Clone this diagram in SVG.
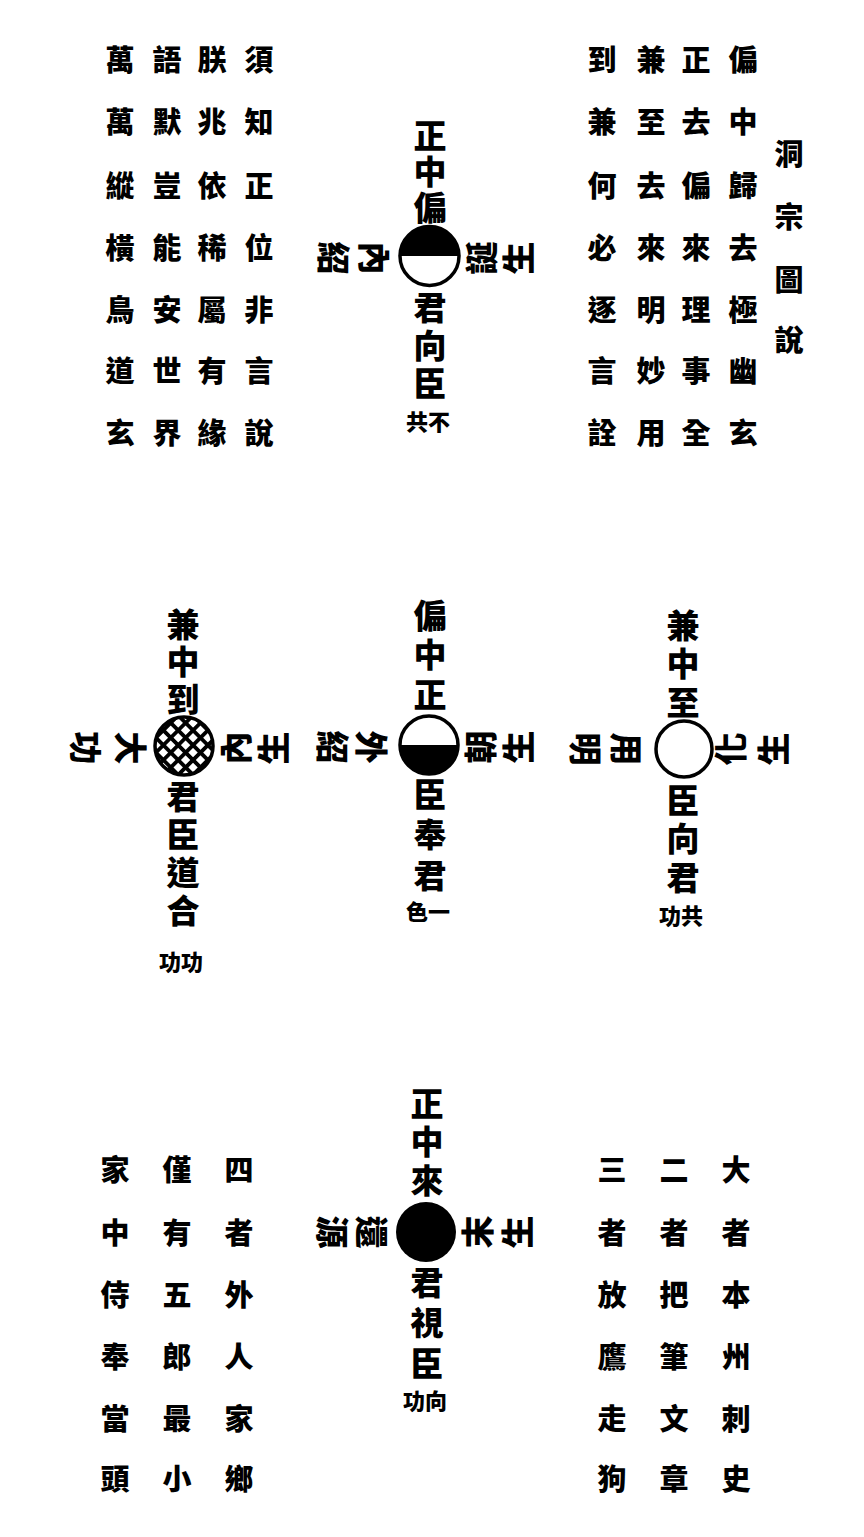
<svg xmlns="http://www.w3.org/2000/svg" width="864" height="1537" viewBox="0 0 864 1537">
<style>
text{font-family:"Noto Sans CJK TC","Noto Sans CJK SC","Noto Sans CJK JP",sans-serif;font-weight:900;fill:#000;text-anchor:middle;dominant-baseline:central}
.p{font-size:29px}
.f{font-size:33px}
.v{writing-mode:vertical-rl;text-anchor:start}
.s{font-size:22px}
.ring{fill:none;stroke:#000;stroke-width:3.5}
</style>
<defs>
<pattern id="hatch" patternUnits="userSpaceOnUse" width="10.5" height="10.5" patternTransform="rotate(45)">
<rect width="10.5" height="10.5" fill="#fff"/>
<rect x="0" y="0" width="3.8" height="10.5" fill="#000"/>
<rect x="0" y="0" width="10.5" height="3.8" fill="#000"/>
</pattern>
</defs>
<rect width="864" height="1537" fill="#fff"/>

<g id="poem-top-left">
<text class="p"><tspan x="259" y="58">須</tspan><tspan x="259" y="120">知</tspan><tspan x="259" y="184">正</tspan><tspan x="259" y="246">位</tspan><tspan x="259" y="308">非</tspan><tspan x="259" y="369">言</tspan><tspan x="259" y="431">說</tspan></text>
<text class="p"><tspan x="212" y="58">朕</tspan><tspan x="212" y="120">兆</tspan><tspan x="212" y="184">依</tspan><tspan x="212" y="246">稀</tspan><tspan x="212" y="308">屬</tspan><tspan x="212" y="369">有</tspan><tspan x="212" y="431">緣</tspan></text>
<text class="p"><tspan x="167" y="58">語</tspan><tspan x="167" y="120">默</tspan><tspan x="167" y="184">豈</tspan><tspan x="167" y="246">能</tspan><tspan x="167" y="308">安</tspan><tspan x="167" y="369">世</tspan><tspan x="167" y="431">界</tspan></text>
<text class="p"><tspan x="120" y="58">萬</tspan><tspan x="120" y="120">萬</tspan><tspan x="120" y="184">縱</tspan><tspan x="120" y="246">橫</tspan><tspan x="120" y="308">鳥</tspan><tspan x="120" y="369">道</tspan><tspan x="120" y="431">玄</tspan></text>
</g>

<g id="poem-top-right">
<text class="p"><tspan x="743" y="58">偏</tspan><tspan x="743" y="120">中</tspan><tspan x="743" y="184">歸</tspan><tspan x="743" y="246">去</tspan><tspan x="743" y="308">極</tspan><tspan x="743" y="369">幽</tspan><tspan x="743" y="431">玄</tspan></text>
<text class="p"><tspan x="696" y="58">正</tspan><tspan x="696" y="120">去</tspan><tspan x="696" y="184">偏</tspan><tspan x="696" y="246">來</tspan><tspan x="696" y="308">理</tspan><tspan x="696" y="369">事</tspan><tspan x="696" y="431">全</tspan></text>
<text class="p"><tspan x="651" y="58">兼</tspan><tspan x="651" y="120">至</tspan><tspan x="651" y="184">去</tspan><tspan x="651" y="246">來</tspan><tspan x="651" y="308">明</tspan><tspan x="651" y="369">妙</tspan><tspan x="651" y="431">用</tspan></text>
<text class="p"><tspan x="602" y="58">到</tspan><tspan x="602" y="120">兼</tspan><tspan x="602" y="184">何</tspan><tspan x="602" y="246">必</tspan><tspan x="602" y="308">逐</tspan><tspan x="602" y="369">言</tspan><tspan x="602" y="431">詮</tspan></text>
</g>

<g id="title">
<text class="p"><tspan x="789" y="152">洞</tspan><tspan x="789" y="215">宗</tspan><tspan x="789" y="278">圖</tspan><tspan x="789" y="338">說</tspan></text>
</g>

<g id="fig-zhengzhongpian">
<text class="f v" x="430" y="118.5" letter-spacing="3">正中偏</text>
<path d="M400,256 A29.5,29.5 0 0 1 459,256 Z" fill="#000"/>
<circle class="ring" cx="429.5" cy="256" r="29.5"/>
<text class="f v" x="430" y="290.5" letter-spacing="5">君向臣</text>
<text class="s" x="428" y="420">共不</text>
<text class="f v" transform="translate(354.5 258) rotate(90)" x="0" y="-37" letter-spacing="8">內紹</text>
<text class="f v" transform="translate(499.5 258) rotate(-90)" x="0" y="-35" letter-spacing="4">誕生</text>
</g>

<g id="fig-jianzhongdao">
<text class="f v" x="183" y="607.5" letter-spacing="4.5">兼中到</text>
<circle cx="184" cy="746" r="29" fill="url(#hatch)"/>
<circle class="ring" cx="184" cy="746" r="29"/>
<text class="f v" x="183" y="779.5" letter-spacing="5.3">君臣道合</text>
<text class="s" x="181" y="960">功功</text>
<text class="f v" transform="translate(108.5 748) rotate(90)" x="0" y="-39" letter-spacing="12">大功</text>
<text class="f v" transform="translate(254 748) rotate(-90)" x="0" y="-35.5" letter-spacing="5">內生</text>
</g>

<g id="fig-pianzhongzheng">
<text class="f v" x="430" y="598.5" letter-spacing="6.5">偏中正</text>
<path d="M400,745 A29,29 0 0 0 458,745 Z" fill="#000"/>
<circle class="ring" cx="429" cy="745" r="29"/>
<text class="f v" x="430" y="777.5" letter-spacing="7.5">臣奉君</text>
<text class="s" x="428" y="910">色一</text>
<text class="f v" transform="translate(352.5 747) rotate(90)" x="0" y="-36" letter-spacing="6">外紹</text>
<text class="f v" transform="translate(499 747) rotate(-90)" x="0" y="-35.5" letter-spacing="5">朝生</text>
</g>

<g id="fig-pianzhongzhi">
<text class="f v" x="683" y="608.5" letter-spacing="5.5">兼中至</text>
<circle class="ring" cx="684" cy="749" r="28"/>
<text class="f v" x="683" y="783.5" letter-spacing="5.5">臣向君</text>
<text class="s" x="681" y="914">功共</text>
<text class="f v" transform="translate(606.5 749) rotate(90)" x="0" y="-37" letter-spacing="8">用明</text>
<text class="f v" transform="translate(751.5 749) rotate(-90)" x="0" y="-38" letter-spacing="10">化生</text>
</g>

<g id="fig-zhengzhonglai">
<text class="f v" x="427" y="1086.5" letter-spacing="5.5">正中來</text>
<circle cx="426" cy="1232" r="30" fill="#000"/>
<text class="f v" x="427" y="1265.5" letter-spacing="7.5">君視臣</text>
<text class="s" x="425" y="1399">功向</text>
<text class="f v" transform="translate(352.5 1232) rotate(90)" x="0" y="-36" letter-spacing="6">還源</text>
<text class="f v" transform="translate(497 1232) rotate(-90)" x="0" y="-36.5" letter-spacing="7">末生</text>
</g>

<g id="poem-bottom-left">
<text class="p"><tspan x="239" y="1168">四</tspan><tspan x="239" y="1231">者</tspan><tspan x="239" y="1293">外</tspan><tspan x="239" y="1355">人</tspan><tspan x="239" y="1417">家</tspan><tspan x="239" y="1477">鄉</tspan></text>
<text class="p"><tspan x="177" y="1168">僅</tspan><tspan x="177" y="1231">有</tspan><tspan x="177" y="1293">五</tspan><tspan x="177" y="1355">郎</tspan><tspan x="177" y="1417">最</tspan><tspan x="177" y="1477">小</tspan></text>
<text class="p"><tspan x="115" y="1168">家</tspan><tspan x="115" y="1231">中</tspan><tspan x="115" y="1293">侍</tspan><tspan x="115" y="1355">奉</tspan><tspan x="115" y="1417">當</tspan><tspan x="115" y="1477">頭</tspan></text>
</g>

<g id="poem-bottom-right">
<text class="p"><tspan x="736" y="1168">大</tspan><tspan x="736" y="1231">者</tspan><tspan x="736" y="1293">本</tspan><tspan x="736" y="1355">州</tspan><tspan x="736" y="1417">刺</tspan><tspan x="736" y="1477">史</tspan></text>
<text class="p"><tspan x="674" y="1168">二</tspan><tspan x="674" y="1231">者</tspan><tspan x="674" y="1293">把</tspan><tspan x="674" y="1355">筆</tspan><tspan x="674" y="1417">文</tspan><tspan x="674" y="1477">章</tspan></text>
<text class="p"><tspan x="612" y="1168">三</tspan><tspan x="612" y="1231">者</tspan><tspan x="612" y="1293">放</tspan><tspan x="612" y="1355">鷹</tspan><tspan x="612" y="1417">走</tspan><tspan x="612" y="1477">狗</tspan></text>
</g>
</svg>
